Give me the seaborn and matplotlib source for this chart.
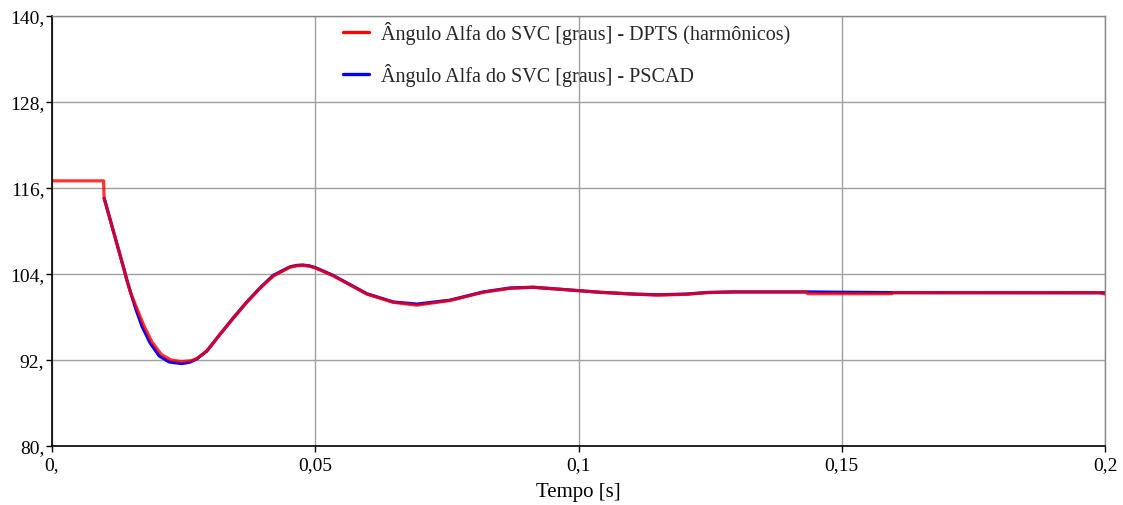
import numpy as np
import pandas as pd
import matplotlib
matplotlib.use("Agg")
import matplotlib.pyplot as plt
import seaborn as sns

# DPTS (harmonicos) - red
t_dpts = [0.0, 0.0098, 0.0099, 0.0118, 0.0137, 0.0142, 0.01495, 0.0162, 0.0175, 0.0190,
          0.0208, 0.0226, 0.0246, 0.0265, 0.0275, 0.0294, 0.0319, 0.0344, 0.0370, 0.0395,
          0.0420, 0.0452, 0.0465, 0.0476, 0.0488, 0.0500, 0.0534, 0.0598, 0.0648, 0.0693,
          0.0756, 0.0819, 0.0870, 0.0914, 0.0978, 0.1041, 0.1104, 0.1150, 0.1205, 0.1244,
          0.1294, 0.1433, 0.1435, 0.1595, 0.1597, 0.1990, 0.2000]
v_dpts = [117.0, 117.0, 114.6, 109.6, 104.6, 103.2, 101.36, 99.04, 96.72, 94.5,
          92.75, 92.0, 91.78, 91.92, 92.2, 93.25, 95.57, 97.8, 100.05, 102.0,
          103.7, 104.95, 105.15, 105.2, 105.1, 104.85, 103.75, 101.2, 100.05, 99.65,
          100.3, 101.45, 102.0, 102.15, 101.8, 101.45, 101.2, 101.05, 101.17, 101.4,
          101.5, 101.5, 101.25, 101.25, 101.4, 101.4, 101.2]

# PSCAD - blue
t_pscad = [0.0099, 0.0118, 0.0137, 0.0142, 0.01495, 0.01596, 0.01709, 0.01861, 0.02038, 0.02228,
           0.0246, 0.0262, 0.0275, 0.0294, 0.0319, 0.0344, 0.0370, 0.0395, 0.0420, 0.0452,
           0.0465, 0.0476, 0.0488, 0.0500, 0.0534, 0.0598, 0.0648, 0.0693, 0.0756, 0.0819,
           0.0870, 0.0914, 0.0978, 0.1041, 0.1104, 0.1150, 0.1205, 0.1244, 0.1294, 0.1433,
           0.1500, 0.1600, 0.2000]
v_pscad = [114.6, 109.6, 104.6, 103.2, 101.36, 99.04, 96.72, 94.42, 92.56, 91.72,
           91.5, 91.7, 92.15, 93.25, 95.57, 97.85, 100.1, 102.05, 103.8, 105.0,
           105.2, 105.25, 105.15, 104.9, 103.8, 101.25, 100.1, 99.8, 100.35, 101.5,
           102.05, 102.15, 101.8, 101.45, 101.2, 101.1, 101.2, 101.42, 101.5, 101.5,
           101.45, 101.4, 101.38]

x_ticks = [0, 0.05, 0.1, 0.15, 0.2]
x_labels = ["0,", "0,05", "0,1", "0,15", "0,2"]
y_ticks = [80, 92, 104, 116, 128, 140]
y_labels = ["80,", "92,", "104,", "116,", "128,", "140,"]

lbl_dpts = "Ângulo Alfa do SVC [graus] - DPTS (harmônicos)"
lbl_pscad = "Ângulo Alfa do SVC [graus] - PSCAD"

sns.set_theme(style="white")
plt.rcParams['font.family'] = ['Liberation Serif', 'DejaVu Serif']

df_d = pd.DataFrame({"t": t_dpts, "v": v_dpts})
df_p = pd.DataFrame({"t": t_pscad, "v": v_pscad})

fig = plt.figure(figsize=(11.23, 5.06), dpi=100)
ax = fig.add_axes([52/1123, 1-447/506, (1105-52)/1123, (447-17)/506])

sns.lineplot(data=df_p, x="t", y="v", ax=ax, color="#0000ff", lw=2.3,
             estimator=None, sort=False, label=lbl_pscad)
sns.lineplot(data=df_d, x="t", y="v", ax=ax, color="#ff0000", lw=2.3, alpha=0.8,
             estimator=None, sort=False, label=lbl_dpts)

ax.set_xlim(0, 0.2)
ax.set_ylim(80, 140)
ax.set_xticks(x_ticks)
ax.set_xticklabels(x_labels)
ax.set_yticks(y_ticks)
ax.set_yticklabels(y_labels)
ax.tick_params(axis='both', labelsize=14, colors='black', length=4, width=1,
               direction='out', left=True, bottom=True)
ax.tick_params(axis='y', pad=1.5)
ax.grid(True, color='#a0a0a0', lw=1)
for s in ['left', 'bottom']:
    ax.spines[s].set_color('black')
    ax.spines[s].set_linewidth(1.2)
for s in ['top', 'right']:
    ax.spines[s].set_color('#888888')
    ax.spines[s].set_linewidth(1)
ax.set_xlabel("Tempo [s]", fontsize=15, color='black', labelpad=6)
ax.set_ylabel("")

h, l = ax.get_legend_handles_labels()
leg = ax.legend([h[1], h[0]], [l[1], l[0]], loc='upper left',
                bbox_to_anchor=(343/1123, 1-22/506), bbox_transform=fig.transFigure,
                frameon=False, fontsize=14.5, labelspacing=0.95, handlelength=1.3,
                handletextpad=0.6, borderpad=0, borderaxespad=0)
for line in leg.get_lines():
    line.set_alpha(1)
    line.set_linewidth(2.4)

fig.savefig("out.png", dpi=100)
